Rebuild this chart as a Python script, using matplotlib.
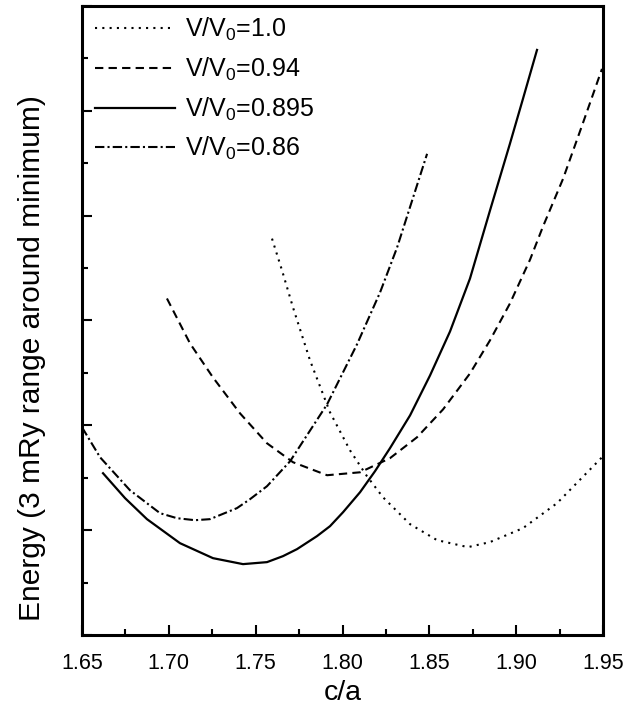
import matplotlib
matplotlib.use("Agg")
import matplotlib.pyplot as plt
from matplotlib.ticker import MultipleLocator, NullFormatter

plt.rcParams['font.family'] = ['Liberation Sans', 'DejaVu Sans']
plt.rcParams['mathtext.fontset'] = 'custom'
plt.rcParams['mathtext.rm'] = 'Liberation Sans'
plt.rcParams['mathtext.it'] = 'Liberation Sans'

# c/a vs energy (arbitrary offset, 3 mRy window), one pair per volume
ca_100 = [1.7594, 1.7652, 1.7715, 1.7813, 1.7928, 1.8043, 1.8141, 1.8233, 1.8389,
          1.8544, 1.8722, 1.8849, 1.9039, 1.9235, 1.9494]
e_100 = [3.781, 3.476, 3.124, 2.619, 2.124, 1.762, 1.514, 1.314, 1.057,
         0.905, 0.838, 0.886, 1.019, 1.257, 1.695]

ca_094 = [1.6989, 1.7122, 1.7254, 1.7410, 1.7565, 1.7715, 1.7911, 1.8101, 1.8273, 1.8429,
          1.8579, 1.8734, 1.8849, 1.8964, 1.9080, 1.9154, 1.9270, 1.9385, 1.9494]
e_094 = [3.210, 2.781, 2.457, 2.114, 1.829, 1.648, 1.524, 1.552, 1.686, 1.886,
         2.152, 2.495, 2.810, 3.162, 3.581, 3.895, 4.352, 4.886, 5.400]

ca_0895 = [1.6621, 1.6748, 1.6874, 1.7064, 1.7254, 1.7427, 1.7565, 1.7657, 1.7738, 1.7853,
           1.7928, 1.8003, 1.8101, 1.8187, 1.8273, 1.8389, 1.8504, 1.8619, 1.8734, 1.8849,
           1.8964, 1.9039, 1.9120]
e_0895 = [1.543, 1.305, 1.105, 0.876, 0.733, 0.676, 0.695, 0.752, 0.819, 0.943,
          1.038, 1.171, 1.362, 1.562, 1.781, 2.095, 2.476, 2.895, 3.400, 4.048,
          4.686, 5.114, 5.581]

ca_086 = [1.6500, 1.6604, 1.6776, 1.6949, 1.7047, 1.7151, 1.7237, 1.7392, 1.7467, 1.7565,
          1.7698, 1.7911, 1.8083, 1.8216, 1.8314, 1.8406, 1.8487]
e_086 = [1.981, 1.695, 1.381, 1.162, 1.114, 1.095, 1.105, 1.210, 1.295, 1.419,
         1.657, 2.200, 2.771, 3.267, 3.695, 4.171, 4.590]

fig = plt.figure(figsize=(6.28, 7.05), dpi=100)
ax = fig.add_axes([0.1306, 0.0993, 0.8296, 0.8922])

ax.plot(ca_100, e_100, color='black', lw=1.5, linestyle=(0, (1, 2.5)), label=r'V/V$_0$=1.0')
ax.plot(ca_094, e_094, color='black', lw=1.5, linestyle=(0, (4, 2.5)), label=r'V/V$_0$=0.94')
ax.plot(ca_0895, e_0895, color='black', lw=1.6, linestyle='-', label=r'V/V$_0$=0.895')
ax.plot(ca_086, e_086, color='black', lw=1.5, linestyle=(0, (4.5, 1.5, 1, 1.5)), label=r'V/V$_0$=0.86')

ax.set_xlim(1.65, 1.95)
ax.set_ylim(0, 6)
ax.xaxis.set_major_locator(MultipleLocator(0.05))
ax.xaxis.set_minor_locator(MultipleLocator(0.025))
ax.yaxis.set_major_locator(MultipleLocator(1))
ax.yaxis.set_minor_locator(MultipleLocator(0.5))
ax.yaxis.set_major_formatter(NullFormatter())
ax.tick_params(which='both', direction='in', top=False, right=False, width=1.5)
ax.tick_params(which='major', length=7, labelsize=15.5, pad=13)
ax.tick_params(which='minor', length=4)
for s in ax.spines.values():
    s.set_linewidth(2.2)

ax.set_xlabel('c/a', fontsize=20.5, labelpad=4)
ax.set_ylabel('Energy (3 mRy range around minimum)', fontsize=21.5)
ax.yaxis.set_label_coords(-0.07, 0.44)

ax.legend(loc='upper left', frameon=False, fontsize=18, handlelength=3.2,
          handletextpad=0.4, labelspacing=0.5, borderaxespad=0.1, borderpad=0.3,
          bbox_to_anchor=(0.005, 1.0))

fig.savefig('out.png', dpi=100)
